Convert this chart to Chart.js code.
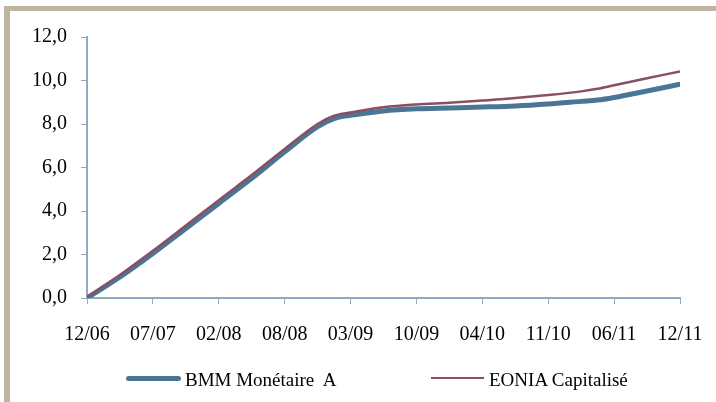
<!DOCTYPE html>
<html>
<head>
<meta charset="utf-8">
<script src="https://cdn.jsdelivr.net/npm/chart.js@4"></script>
<style>
  html, body { margin: 0; padding: 0; background: #fff; overflow: hidden; }
  #frame {
    position: absolute; left: 4px; top: 6px;
    width: 740px; height: 420px;
    border-left: 6px solid #BFB49F; border-top: 5px solid #BFB49F;
    background: #fff;
  }
  #wrap { position: absolute; left: 0; top: 0; width: 740px; height: 391px; }
  #legend {
    position: absolute; left: 0; top: 0;
    font-family: "Liberation Serif", "Times New Roman", serif; font-size: 19px; color: #000;
  }
  .item { position: absolute; white-space: pre; line-height: 19px; }
  .swatch { position: absolute; top: 0; }
</style>
</head>
<body>
<div id="frame">
  <div id="wrap"><canvas id="myChart"></canvas></div>
</div>
<div id="legend"></div>
<script>
// x positions are in tick-interval units (0 = 12/06 ... 9 = 12/11)
const tickLabels = ['12/06', '07/07', '02/08', '08/08', '03/09', '10/09', '04/10', '11/10', '06/11', '12/11'];
const xPos = [0, 0.5, 1, 1.5, 2, 2.5, 3, 3.5, 3.75, 4, 4.5, 5, 5.5, 6, 6.5, 7, 7.5, 7.75, 8, 8.5, 9];
const bmm =   [0.0, 0.97, 2.05, 3.2, 4.35, 5.5, 6.72, 7.88, 8.25, 8.4, 8.6, 8.7, 8.74, 8.78, 8.83, 8.92, 9.04, 9.1, 9.22, 9.52, 9.83];
const eonia = [0.05, 1.06, 2.17, 3.33, 4.5, 5.65, 6.85, 8.0, 8.38, 8.53, 8.77, 8.9, 8.98, 9.08, 9.19, 9.33, 9.5, 9.62, 9.78, 10.1, 10.42];
const yLabels = ['0,0', '2,0', '4,0', '6,0', '8,0', '10,0', '12,0'];

const legendNames = ['BMM Monétaire  A', 'EONIA Capitalisé'];
const axisColor = '#8FAAC2';

function toPoints(vals) {
  return vals.map((v, i) => ({x: xPos[i], y: v}));
}

const data = {
  datasets: [{
    label: legendNames[0],
    data: toPoints(bmm),
    borderColor: '#4A7696',
    borderWidth: 5,
    borderCapStyle: 'round',
    pointRadius: 0,
    cubicInterpolationMode: 'monotone',
    order: 2
  }, {
    label: legendNames[1],
    data: toPoints(eonia),
    borderColor: '#8A4F62',
    borderWidth: 2.5,
    pointRadius: 0,
    cubicInterpolationMode: 'monotone',
    order: 1
  }]
};

const tickFont = {family: '"Liberation Serif", "Times New Roman", serif', size: 20};

const config = {
  type: 'line',
  data: data,
  options: {
    responsive: true,
    maintainAspectRatio: false,
    animation: false,
    layout: {padding: {left: 0, right: 70, top: 20, bottom: 36}},
    plugins: {legend: {display: false}, tooltip: {enabled: false}},
    scales: {
      x: {
        type: 'linear', min: 0, max: 9,
        grid: {drawOnChartArea: false, color: axisColor, tickLength: 6},
        border: {color: axisColor, width: 2},
        ticks: {
          stepSize: 1, color: '#000', font: tickFont, padding: 19, maxRotation: 0,
          callback: v => tickLabels[v]
        }
      },
      y: {
        min: 0, max: 12,
        afterFit: s => { s.width = 77; },
        grid: {drawOnChartArea: false, color: axisColor, tickLength: 6},
        border: {color: axisColor, width: 2},
        ticks: {
          stepSize: 2, color: '#000', font: tickFont, padding: 14,
          callback: v => yLabels[v / 2]
        }
      }
    }
  }
};

const myChart = new Chart(document.getElementById('myChart'), config);

// html legend, built from the datasets
const legendPos = [{line: 126, width: 55, text: 185}, {line: 431, width: 53, text: 489}];
const legendEl = document.getElementById('legend');
myChart.data.datasets.forEach((ds, i) => {
  const sw = document.createElement('div');
  sw.className = 'swatch';
  sw.style.cssText = 'position:absolute;left:' + legendPos[i].line + 'px;top:' + (378 - ds.borderWidth / 2) + 'px;width:' +
    legendPos[i].width + 'px;height:' + ds.borderWidth + 'px;background:' + ds.borderColor +
    ';border-radius:' + (ds.borderCapStyle === 'round' ? ds.borderWidth / 2 : 0) + 'px';
  legendEl.appendChild(sw);
  const t = document.createElement('div');
  t.className = 'item';
  t.style.left = legendPos[i].text + 'px';
  t.style.top = '370px';
  t.textContent = ds.label;
  legendEl.appendChild(t);
});
</script>
</body>
</html>
